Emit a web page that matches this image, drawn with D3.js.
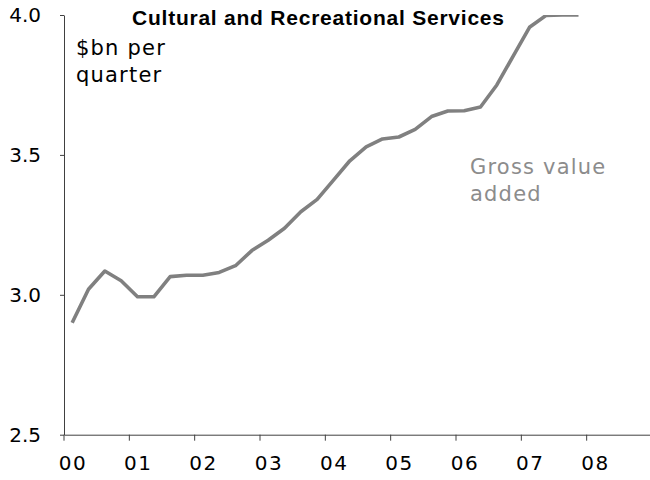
<!DOCTYPE html>
<html>
<head>
<meta charset="utf-8">
<script src="https://cdn.jsdelivr.net/npm/d3@7"></script>
<style>
  html, body { margin: 0; padding: 0; background: #fff; }
  svg { display: block; }
</style>
</head>
<body>
<svg id="chart" width="650" height="480"></svg>
<script>
// ---- data ----
const yearLabels = ["00", "01", "02", "03", "04", "05", "06", "07", "08"];
const quarters = ["Q1", "Q2", "Q3", "Q4"];
const categories = yearLabels.flatMap(y => quarters.map(q => y + q));
const grossValueAdded = [
  2.90, 3.02, 3.085, 3.05,
  2.993, 2.993, 3.065, 3.07,
  3.07, 3.08, 3.104, 3.158,
  3.195, 3.238, 3.297, 3.341,
  3.41, 3.479, 3.529, 3.557,
  3.564, 3.591, 3.637, 3.657,
  3.658, 3.671, 3.75, 3.853,
  3.956, 3.998, 4.0, 4.0
];
const yTicks = [2.5, 3.0, 3.5, 4.0];
const titleText = "Cultural and Recreational Services";
const unitLines = ["$bn per", "quarter"];
const seriesLines = ["Gross value", "added"];

// ---- layout ----
const svg = d3.select("#chart");
const mLeft = 64, mRight = 652, mTop = 15, mBottom = 434.7;

const x = d3.scaleBand().domain(categories).range([mLeft, mRight]).padding(0);
const y = d3.scaleLinear().domain([2.5, 4.0]).range([mBottom, mTop]);

const axisColor = "#404040";
const textFont = "'DejaVu Sans', 'Open Sans', sans-serif";
const labelSize = "20px";
const noteSize = "21px";

// clip
svg.append("clipPath").attr("id", "plotclip")
  .append("rect").attr("x", mLeft).attr("y", mTop)
  .attr("width", mRight - mLeft).attr("height", mBottom - mTop);

// line
const line = d3.line()
  .x((d, i) => x(categories[i]) + x.bandwidth() / 2)
  .y(d => y(d));

svg.append("path")
  .datum(grossValueAdded)
  .attr("clip-path", "url(#plotclip)")
  .attr("fill", "none")
  .attr("stroke", "#808080")
  .attr("stroke-width", 3.6)
  .attr("stroke-linejoin", "round")
  .attr("d", line);

// y axis
const yAxis = d3.axisLeft(y).tickValues(yTicks).tickFormat(d3.format(".1f"))
  .tickSize(4).tickPadding(19).tickSizeOuter(0);
const gy = svg.append("g").attr("transform", `translate(${mLeft},0)`).call(yAxis);
gy.select(".domain").attr("stroke", axisColor);
gy.selectAll(".tick line").attr("stroke", axisColor);
gy.selectAll(".tick text").attr("fill", "#000")
  .style("font-family", textFont).style("font-size", labelSize);

// x axis: ticks at year boundaries, labels at first-quarter centres
const yearStarts = yearLabels.map(yl => yl + "Q1");
const xAxis = d3.axisBottom(x).tickValues(yearStarts)
  .tickFormat(d => d.slice(0, 2)).tickSize(6).tickPadding(15).tickSizeOuter(0);
const gx = svg.append("g").attr("transform", `translate(0,${mBottom})`).call(xAxis);
gx.select(".domain").attr("stroke", axisColor);
gx.selectAll(".tick").attr("transform", d => `translate(${x(d)},0)`);
gx.selectAll(".tick line").attr("stroke", axisColor);
gx.selectAll(".tick text").attr("fill", "#000")
  .attr("x", x.bandwidth() / 2 + 0.75)
  .style("letter-spacing", "1.5px")
  .style("font-family", textFont).style("font-size", labelSize);

// title
svg.append("text")
  .attr("x", 318).attr("y", 25)
  .attr("text-anchor", "middle")
  .attr("textLength", 372).attr("lengthAdjust", "spacing")
  .style("font-family", "'Liberation Sans', Arial, sans-serif")
  .style("font-weight", "bold").style("font-size", "21px")
  .attr("fill", "#000")
  .text(titleText);

// unit label
svg.append("text")
  .style("font-family", textFont).style("font-size", noteSize).attr("fill", "#000")
  .style("letter-spacing", "1.2px")
  .selectAll("tspan").data(unitLines).join("tspan")
  .attr("x", 76).attr("y", (d, i) => 55 + i * 27)
  .text(d => d);

// series label
svg.append("text")
  .style("font-family", textFont).style("font-size", noteSize).attr("fill", "#8c8c8c")
  .style("letter-spacing", "1.2px")
  .selectAll("tspan").data(seriesLines).join("tspan")
  .attr("x", 470).attr("y", (d, i) => 174 + i * 27)
  .text(d => d);
</script>
</body>
</html>
